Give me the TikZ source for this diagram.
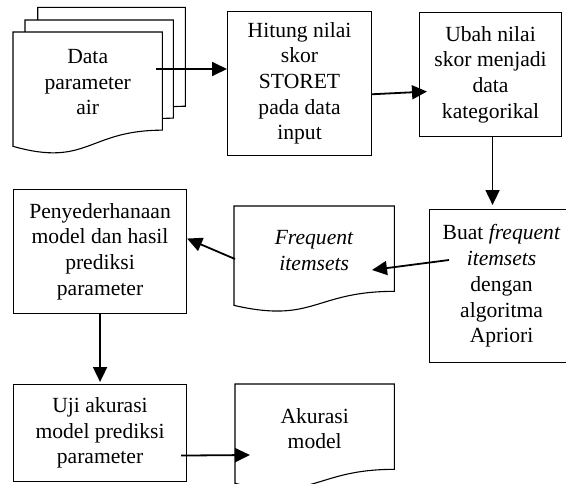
\documentclass[tikz,border=0pt]{standalone}
\usepackage{fontspec}
\setmainfont{Liberation Serif}
\usetikzlibrary{calc,arrows.meta}
\newcommand\wavydoc[1]{%
  \draw[docline] (#1.north west) -- (#1.north east)
    -- ($(#1.north east)!0.802!(#1.south east)$)
    .. controls ($(#1.north)!0.802!(#1.south)$) and ($(#1.north)!1.1075!(#1.south)$)
    .. ($(#1.north west)!0.934!(#1.south west)$) -- cycle;}
\begin{document}
\begin{tikzpicture}[x=1pt,y=-1pt,
  every node/.style={font=\fontsize{21.6}{25.7}\selectfont},
  procbox/.style={draw, line width=1.1pt, inner sep=0pt, anchor=north west, align=center},
  docbox/.style={draw=none, inner sep=0pt, anchor=north west},
  docline/.style={line width=1.1pt, fill=white},
  txt/.style={align=center, inner sep=0pt},
  flow/.style={line width=1.8pt, -{Triangle[length=15pt,width=14pt]}}]
\useasboundingbox (0,0) rectangle (566,483);
\clip (0,0) rectangle (566,483);
% data stack
\node[docbox, minimum width=147.3pt, minimum height=123pt] (databack) at (37.7,7.3) {};
\node[docbox, minimum width=148pt, minimum height=122pt] (datamid) at (25,20) {};
\node[docbox, minimum width=149pt, minimum height=122pt] (data) at (13,32) {};
\wavydoc{databack}
\wavydoc{datamid}
\wavydoc{data}
\node[txt] (datatext) at ($(data.north)!0.401!(data.south)+(0,1)$) {Data\\parameter\\air};
% process boxes
\node[procbox, minimum width=144pt, minimum height=144pt] (hitung) at (227,10.7) {Hitung nilai\\skor\\STORET\\pada data\\input};
\node[procbox, minimum width=142pt, minimum height=124pt] (ubah) at (419,12) {Ubah nilai\\skor menjadi\\data\\kategorikal};
\node[procbox, minimum width=144pt, minimum height=153pt] (buat) at (429,209) {Buat \textit{frequent}\\\textit{itemsets}\\dengan\\algoritma\\Apriori};
\node[procbox, minimum width=173pt, minimum height=124pt] (penyed) at (13,189) {Penyederhanaan\\model dan hasil\\prediksi\\parameter};
\node[procbox, minimum width=173pt, minimum height=97pt] (uji) at (13,384) {Uji akurasi\\model prediksi\\parameter};
% documents
\node[docbox, minimum width=160pt, minimum height=106pt] (freq) at (234,206) {};
\wavydoc{freq}
\node[txt] (freqtext) at ($(freq.north)!0.401!(freq.south)+(0,2)$) {\textit{Frequent}\\\textit{itemsets}};
\node[docbox, minimum width=159pt, minimum height=106pt] (akurasi) at (235,384) {};
\wavydoc{akurasi}
\node[txt] (akurasitext) at ($(akurasi.north)!0.401!(akurasi.south)+(0,2)$) {Akurasi\\model};
% connectors
\coordinate (s1) at ($(data.north east)+(-6,37)$);
\draw[flow] (s1) -- (s1 -| hitung.west);
\draw[flow] ($(hitung.east)+(0,11)$) -- ($(ubah.west)+(8,17)$);
\draw[flow] ($(ubah.south)+(2,0)$) -- ($(buat.north)+(-9,-4)$);
\draw[flow] ($(buat.north west)+(20,51)$) -- ($(freq.north west)+(138,64)$);
\draw[flow] ($(freq.north west)+(1,53)$) -- ($(penyed.east)+(0,-13)$);
\draw[flow] (penyed.south) -- ($(uji.north)+(0,-2)$);
\draw[flow] ($(uji.east)+(-6,22.5)$) -- ($(akurasi.north west)+(15,71)$);
\end{tikzpicture}
\end{document}
